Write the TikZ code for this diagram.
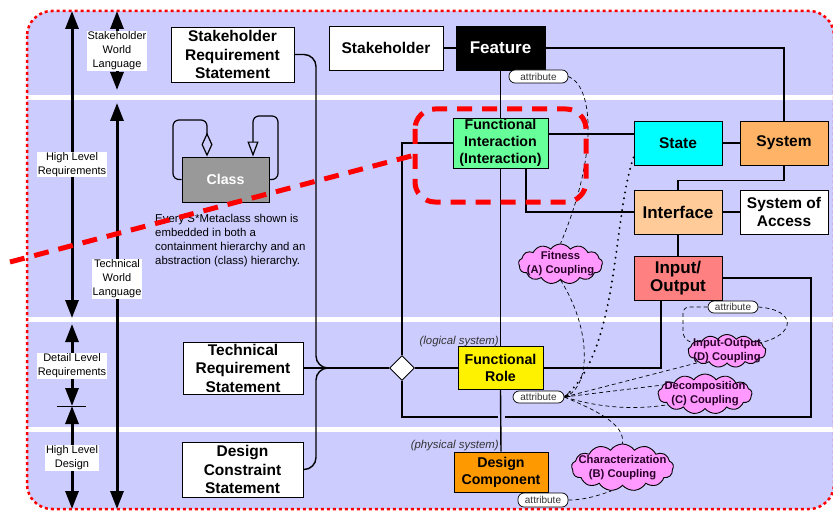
\documentclass[tikz,border=0pt]{standalone}
\usepackage{fontspec}
\setmainfont{Liberation Sans}
\usetikzlibrary{arrows.meta,shapes.geometric,shapes.symbols,calc}
\pgfdeclarelayer{bg}
\pgfsetlayers{bg,main}
\definecolor{lav}{RGB}{204,204,255}
\definecolor{figreen}{RGB}{102,255,153}
\definecolor{stcol}{RGB}{0,255,255}
\definecolor{syscol}{RGB}{255,179,102}
\definecolor{intcol}{RGB}{255,204,153}
\definecolor{iocol}{RGB}{255,128,128}
\definecolor{dccol}{RGB}{255,153,0}
\definecolor{cloudcol}{RGB}{255,153,255}
\definecolor{cltext}{RGB}{40,0,40}
\newcommand\fsBig{\fontsize{17}{18}\selectfont\bfseries}
\newcommand\fsMid{\fontsize{15.5}{18.5}\selectfont\bfseries}
\newcommand\fsSm{\fontsize{14.2}{17}\selectfont\bfseries}
\newcommand\fsCl{\fontsize{11.2}{14}\selectfont\bfseries}
\begin{document}
\begin{tikzpicture}[x=1pt,y=-1pt,
  bx/.style={draw=black, line width=0.9pt, inner sep=0pt, align=center},
  conn/.style={line width=1.4pt, black},
  dsh/.style={line width=0.7pt, dash pattern=on 4pt off 3pt},
  pill/.style={draw, fill=white, line width=0.7pt, rounded corners=6pt, inner sep=0pt, font=\fontsize{10}{11}\selectfont, text=black!80},
  cl/.style={cloud, cloud puffs=13, cloud puff arc=110, cloud ignores aspect, draw, line width=0.9pt, fill=cloudcol, inner sep=0pt},
  cltx/.style={inner sep=0pt, align=center, font=\fsCl, text=cltext},
  lbl/.style={fill=white, inner sep=0.8pt, align=center, font=\fontsize{11}{14}\selectfont},
  bigarr/.style={line width=3pt, arrows={Triangle[length=18pt,width=13pt]-Triangle[length=18pt,width=13pt]}},
  sysl/.style={font=\fontsize{11.4}{13}\selectfont\itshape, text=black!80, inner sep=0pt, anchor=east}
]
\useasboundingbox (0,0) rectangle (833,516);

% ---------- background ----------
\begin{pgfonlayer}{bg}
\fill[lav, rounded corners=25pt] (27,11) rectangle (834,509);
\begin{scope}
\clip[rounded corners=25pt] (27,11) rectangle (834,509);
\fill[white] (27,95.5) rectangle (834,100);
\fill[white] (27,316.5) rectangle (834,321.5);
\fill[white] (27,427) rectangle (834,432);
\end{scope}
\end{pgfonlayer}

% ---------- left scale arrows ----------
\coordinate (A1t) at (72,11);  \coordinate (A1b) at (72,318);
\coordinate (A2t) at (72,324); \coordinate (A2b) at (72,406);
\coordinate (A3t) at (72,406); \coordinate (A3b) at (72,509);
\coordinate (B1t) at (117,11); \coordinate (B1b) at (117,90);
\coordinate (B2t) at (117,103); \coordinate (B2b) at (117,509);
\coordinate (T1) at (57,406); \coordinate (T2) at (86,406);
\draw[bigarr] (A1t) -- (A1b);
\draw[bigarr] (A2t) -- (A2b);
\draw[bigarr] (A3t) -- (A3b);
\draw[bigarr] (B1t) -- (B1b);
\draw[bigarr] (B2t) -- (B2b);
\draw[line width=0.8pt] (T1) -- (T2);
\node[lbl] (L1) at (72,164.5) {High Level\\Requirements};
\node[lbl] (L2) at (72,366) {Detail Level\\Requirements};
\node[lbl] (L3) at (72,458) {High Level\\Design};
\node[lbl] (L4) at (117,51) {Stakeholder\\World\\Language};
\node[lbl] (L5) at (117,279) {Technical\\World\\Language};

% ---------- nodes ----------
\node[bx, fill=white, minimum width=123pt, minimum height=55pt, font=\fsMid] (SRS) at (232.5,54.5) {Stakeholder\\Requirement\\Statement};
\node[bx, fill=white, minimum width=114pt, minimum height=44pt, font=\fsMid] (Stk) at (386,48) {Stakeholder};
\node[bx, fill=black, text=white, minimum width=89pt, minimum height=44pt, font=\fsBig] (Feat) at (500.5,48) {Feature};
\node[bx, fill=figreen, minimum width=95pt, minimum height=50pt, font=\fsSm] (FI) at (500.5,143) {Functional\\Interaction\\(Interaction)};
\node[bx, fill=stcol, minimum width=88pt, minimum height=44pt, font=\fsMid] (State) at (678,143) {State};
\node[bx, fill=syscol, minimum width=88pt, minimum height=44pt, font=\fsMid] (Sys) at (784,143) {System};
\node[bx, fill=intcol, minimum width=88pt, minimum height=44pt, font=\fsBig] (Intf) at (678,212) {Interface};
\node[bx, fill=white, minimum width=88pt, minimum height=44pt, font=\fsMid] (SoA) at (784,212) {System of\\Access};
\node[bx, fill=iocol, minimum width=88pt, minimum height=44pt, font=\fsBig] (IO) at (678,278) {Input/\\Output};
\node[bx, fill=yellow, minimum width=85pt, minimum height=43pt, font=\fsSm] (FR) at (500.5,368) {Functional\\Role};
\node[bx, fill=dccol, minimum width=94pt, minimum height=40pt, font=\fsSm] (DC) at (501,472) {Design\\Component};
\node[bx, fill=white, minimum width=120pt, minimum height=52pt, font=\fsMid] (TRS) at (243,368) {Technical\\Requirement\\Statement};
\node[bx, fill=white, minimum width=121pt, minimum height=55pt, font=\fsMid] (DCS) at (242.5,469.5) {Design\\Constraint\\Statement};
\node[bx, fill=black!40, text=white, minimum width=87pt, minimum height=45pt, font=\fsSm] (Class) at (225.5,179.5) {Class};
\node[diamond, draw, fill=white, line width=0.9pt, minimum width=25pt, minimum height=25pt, inner sep=0pt] (dia) at (402,368) {};

\node[pill, minimum width=59pt, minimum height=13pt] (attrF) at (538.5,76.5) {attribute};
\node[pill, minimum width=51pt, minimum height=12pt] (attrFR) at (538.5,397) {attribute};
\node[pill, minimum width=50pt, minimum height=14pt] (attrDC) at (543,500) {attribute};
\node[pill, minimum width=50pt, minimum height=12pt] (attrIO) at (733,307) {attribute};

\node[cl, minimum width=84pt, minimum height=40pt] (Fit) at (560.5,264) {};
\node[cltx] (Fitt) at (560.5,264) {Fitness\\(A) Coupling};
\node[cl, minimum width=78pt, minimum height=33pt] (IOc) at (727,351) {};
\node[cltx] (IOct) at (727,351) {Input-Output\\(D) Coupling};
\node[cl, minimum width=94pt, minimum height=40pt] (Dec) at (705,394) {};
\node[cltx] (Dect) at (705,394) {Decomposition\\(C) Coupling};
\node[cl, minimum width=102pt, minimum height=47pt] (Char) at (622.5,467.5) {};
\node[cltx] (Chart) at (622.5,467.5) {Characterization\\(B) Coupling};

\node[align=left, anchor=north west, inner sep=0pt, font=\fontsize{11.4}{14}\selectfont] (note) at (155,214.5) {Every S*Metaclass shown is\\embedded in both a\\containment hierarchy and an\\abstraction (class) hierarchy.};
\node[sysl] (logi) at (499,342) {(logical system)};
\node[sysl] (phys) at (499,446) {(physical system)};

% ---------- solid connectors ----------
\coordinate (J1) at (316,368);
\coordinate (J2) at (811,417);
\coordinate (hopR) at (505,417);
\coordinate (hopL) at (498,417);
\begin{pgfonlayer}{bg}
\draw[conn, rounded corners=12pt] (SRS.east) -| (J1) -- (dia.west);
\draw[conn, rounded corners=12pt] (DCS.east) -| (J1) -- (dia.west);
\draw[conn] (TRS.east) -- (dia.west);
\draw[conn] (dia.north) |- (FI.west);
\draw[conn] (dia.east) -- (FR.west);
\draw[conn] (IO.east) -| (J2) -- (hopR);
\draw[conn] (hopL) -| (dia.south);
\draw[conn] (Stk.east) -- (Feat.west);
\draw[conn] (Feat.east) -| (Sys.north);
\draw[conn] (Feat.south) -- (FI.north);
\draw[conn] (FI.south) -- (FR.north);
\draw[conn] (FR.south) -- (DC.north);
\draw[conn] ([yshift=9pt]FI.east) -- ([yshift=9pt]State.west);
\draw[conn] ([xshift=25.5pt]FI.south) |- (Intf.west);
\draw[conn] (State.east) -- (Sys.west);
\draw[conn] (Sys.south) -- ++(0,15) -| (Intf.north);
\draw[conn] (Intf.east) -- (SoA.west);
\draw[conn] (Intf.south) -- (IO.north);
\draw[conn] ([xshift=-17pt]IO.south) |- (FR.east);
\end{pgfonlayer}

% ---------- class self loops ----------
\coordinate (CL1) at (173,120);
\coordinate (CL2) at (207,120);
\coordinate (CR1) at (278,116);
\coordinate (CR2) at (253,116);
\draw[line width=1.2pt, rounded corners=6pt, -{Diamond[open,length=24pt,width=11pt]}]
  (Class.west) -- (Class.west -| CL1) -- (CL1) -- (CL2) -- (CL2 |- Class.north);
\draw[line width=1.2pt, rounded corners=6pt, -{Triangle[open,length=15pt,width=11pt]}]
  (Class.east) -- (Class.east -| CR1) -- (CR1) -- (CR2) -- (CR2 |- Class.north);

% ---------- dashed / dotted connectors ----------
\coordinate (IOa) at (683,338);
\draw[dsh] (attrF.east) .. controls (592,85) and (600,150) .. (Fit.north);
\draw[dsh, -{Stealth[length=6pt,width=5pt]}] (Fit.south) .. controls (592,330) and (590,385) .. (attrFR.east);
\draw[line width=2.2pt, dash pattern=on 0pt off 6pt, line cap=round] ([yshift=8pt]State.south west) .. controls (612,220) and (620,350) .. (attrFR.east);
\draw[dsh] (attrFR.east) -- (IOc.202);
\draw[dsh] (attrFR.east) -- (Dec.168);
\draw[dsh] (attrFR.east) .. controls (600,408) and (635,410) .. (Dec.196);
\draw[dsh] (attrFR.east) .. controls (600,412) and (625,425) .. (Char.north);
\draw[dsh] (attrDC.east) .. controls (585,500) and (600,495) .. (Char.245);
\draw[dsh, rounded corners=6pt] (attrIO.west) -| (IOa) -- (IOc.167);
\draw[dsh] (attrIO.east) .. controls (798,310) and (795,335) .. (IOc.14);

% ---------- red overlays ----------
\draw[red, line width=2.5pt, dash pattern=on 3pt off 3pt, rounded corners=25pt] (27,11) rectangle (834,509);
\coordinate (R1) at (10,262);
\coordinate (R2) at (415,155);
\draw[red, line width=5pt, dash pattern=on 15pt off 10pt] (R1) -- (R2);
\draw[red, line width=5pt, dash pattern=on 15pt off 10pt, rounded corners=20pt] (415,109) rectangle (586,202);
\end{tikzpicture}
\end{document}
